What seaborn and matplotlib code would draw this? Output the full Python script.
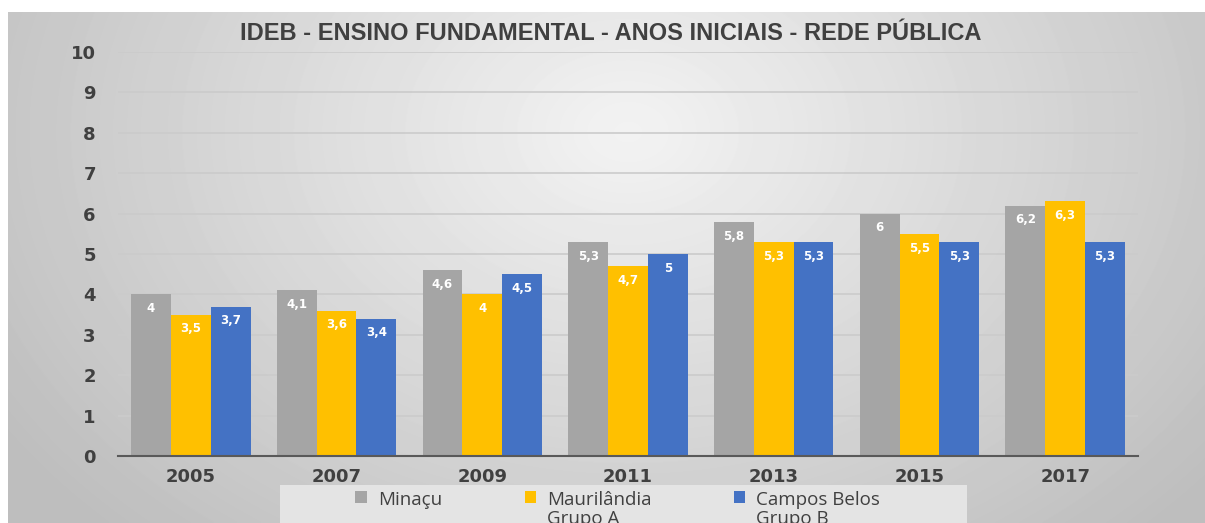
import numpy as np
import pandas as pd
import matplotlib.pyplot as plt
import seaborn as sns
from matplotlib.patches import Rectangle

years = ["2005", "2007", "2009", "2011", "2013", "2015", "2017"]
minacu = [4.0, 4.1, 4.6, 5.3, 5.8, 6.0, 6.2]
maurilandia = [3.5, 3.6, 4.0, 4.7, 5.3, 5.5, 6.3]
campos_belos = [3.7, 3.4, 4.5, 5.0, 5.3, 5.3, 5.3]
series_names = ["Minaçu", "Maurilândia\nGrupo A", "Campos Belos\nGrupo B"]
colors = ["#A5A5A5", "#FFC000", "#4472C4"]

df = pd.DataFrame({
    "ano": years * 3,
    "ideb": minacu + maurilandia + campos_belos,
    "municipio": [series_names[0]] * 7 + [series_names[1]] * 7 + [series_names[2]] * 7,
})

sns.set_style("white")
plt.rcParams["font.family"] = ["DejaVu Sans"]

fig = plt.figure(figsize=(12.05, 5.23), dpi=100)
fig.patch.set_facecolor("white")

# gradient background of the chart area
bg = fig.add_axes([8 / 1205, 0, 1 - 8 / 1205, 1 - 12 / 523])
yy, xx = np.mgrid[0:511, 0:1197]
d = np.sqrt(((xx - 620) / 700.0) ** 2 + ((yy - 120) / 520.0) ** 2)
shade = np.clip(243 - 50 * d, 190, 243) / 255.0
bg.imshow(shade, cmap="gray", vmin=0, vmax=1, aspect="auto", interpolation="bilinear")
bg.axis("off")

ax = fig.add_axes([118 / 1205, 1 - 456 / 523, (1138 - 118) / 1205, (456 - 52) / 523])
ax.patch.set_alpha(0)

sns.barplot(data=df, x="ano", y="ideb", hue="municipio", palette=colors,
            width=0.82, saturation=1, linewidth=0, ax=ax, legend=True)

ax.set_ylim(0, 10)
ax.set_xlim(-0.5, 6.5)
ax.set_yticks(range(0, 11))
ax.set_xlabel("")
ax.set_ylabel("")
for y in range(1, 11):
    ax.axhline(y, color="#cbcbcb", lw=1.2, zorder=0)

for s in ["top", "right", "left"]:
    ax.spines[s].set_visible(False)
ax.spines["bottom"].set_color("#595959")
ax.spines["bottom"].set_linewidth(1.5)
ax.set_xticks(np.arange(-0.5, 7, 1), minor=True)
ax.tick_params(axis="x", which="minor", length=5, width=1.5, color="#595959", direction="out")
ax.tick_params(axis="x", which="major", length=0, pad=9)
ax.tick_params(axis="y", length=0, pad=16)
for lbl in ax.get_xticklabels() + ax.get_yticklabels():
    lbl.set_fontweight("bold")
    lbl.set_fontsize(13)
    lbl.set_color("#404040")

for cont in ax.containers:
    vals = [f"{b.get_height():g}".replace(".", ",") for b in cont]
    ax.bar_label(cont, labels=vals, label_type="edge", padding=-15,
                 color="white", fontsize=8.5, fontweight="bold")

handles, labels = ax.get_legend_handles_labels()
ax.get_legend().remove()

fig.patches.append(Rectangle((280 / 1205, -0.05), (967 - 280) / 1205, 0.05 + 38 / 523,
                             transform=fig.transFigure, facecolor="#e4e4e4",
                             edgecolor="none", zorder=0))
leg = fig.legend(handles, labels, loc="upper left", ncol=3,
                 bbox_to_anchor=(346 / 1205, 1 - 482 / 523), frameon=False,
                 prop={"family": "Open Sans", "size": 13.5}, labelcolor="#404040",
                 handlelength=0.6, handleheight=0.6, handletextpad=0.6,
                 columnspacing=4.4, borderpad=0, labelspacing=0.2)
for t in leg.get_texts():
    t.set_linespacing(1.05)
# put the marker next to the first line of each two-line label
leg._legend_handle_box.align = "top"
for col in leg._legend_handle_box.get_children():
    for item in col.get_children():
        item.align = "top"

fig.text(611 / 1205, 1 - 33 / 523, "IDEB - ENSINO FUNDAMENTAL - ANOS INICIAIS - REDE PÚBLICA",
         ha="center", va="center", fontsize=17, fontweight="bold", color="#404040",
         family=["Liberation Sans Narrow", "Liberation Sans", "DejaVu Sans"])

fig.savefig("out.png", dpi=100)
